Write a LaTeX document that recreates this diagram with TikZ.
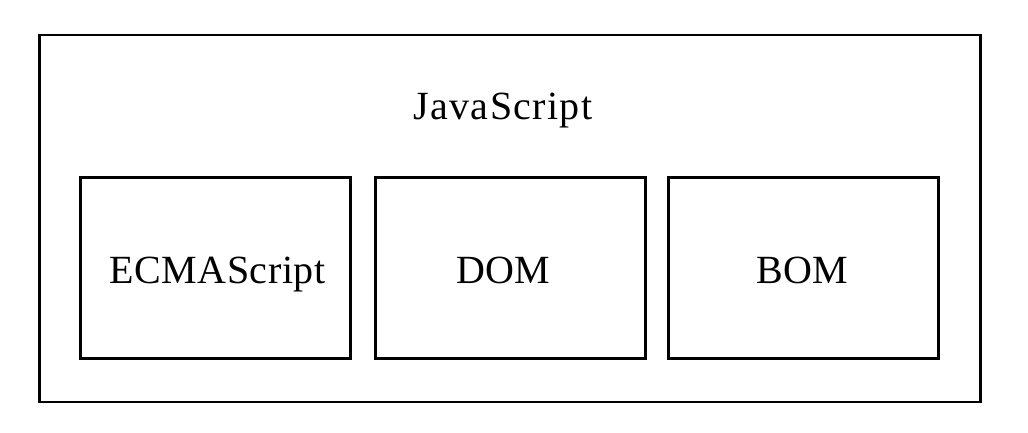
\documentclass[tikz,border=0pt]{standalone}
\usepackage{fontspec}
\setmainfont{Liberation Serif}
\begin{document}
\begin{tikzpicture}[x=1pt,y=-1pt,
  compbox/.style={draw=black,line width=3pt,minimum width=270pt,minimum height=181pt,inner sep=0pt},
  lbl/.style={anchor=base,inner sep=0pt,font=\fontsize{40}{48}\selectfont}]
\useasboundingbox (0,0) rectangle (1028,432);
\draw[line width=2.5pt] (39.5,35) rectangle (980.5,402);
\node[compbox] (ecma) at (215,267.5) {};
\node[compbox] (dom) at (510,267.5) {};
\node[compbox] (bom) at (803.5,267.5) {};
\node[lbl] (js) at (503,119) {\addfontfeature{LetterSpace=3.3}JavaScript};
\node[lbl] (ecmat) at (217.5,283) {\addfontfeature{LetterSpace=1.2}ECMAScript};
\node[lbl] (domt) at (503,283) {DOM};
\node[lbl] (bomt) at (802.5,283) {BOM};
\end{tikzpicture}
\end{document}
